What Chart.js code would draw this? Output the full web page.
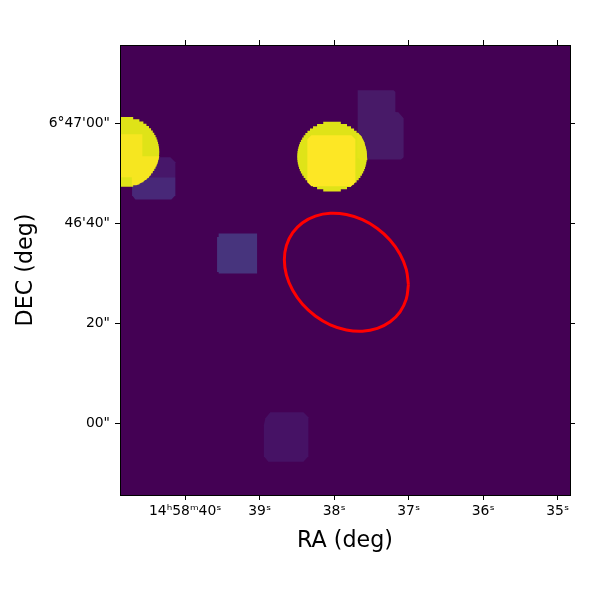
<!DOCTYPE html>
<html>
<head>
<meta charset="utf-8">
<style>
  html, body { margin: 0; padding: 0; background: #fff; }
  canvas { display: block; }
</style>
<script src="https://cdn.jsdelivr.net/npm/chart.js@4"></script>
</head>
<body>
<canvas id="skyChart" width="600" height="600"></canvas>
<script>
// Axis ticks: RA in seconds of time, DEC in arcsec above 6d46'
const raTicks = [40, 39, 38, 37, 36, 35];
const raLabels = ["14ʰ58ᵐ40ˢ", "39ˢ", "38ˢ", "37ˢ", "36ˢ", "35ˢ"];
const decTicks = [60, 40, 20, 0];
const decLabels = ["6°47'00\"", "46'40\"", "20\"", "00\""];

// Faint footprints
const topRightRa = [37.685, 37.202, 37.179, 37.179, 37.139, 37.068, 37.068, 37.102, 37.626, 37.685];
const topRightDec = [66.6, 66.6, 66.26, 62.26, 62.2, 61.0, 53.2, 52.74, 52.74, 53.6];
const leftUpperRa = [40.602, 40.199, 40.132, 40.132, 40.713, 40.713];
const leftUpperDec = [53.2, 53.2, 52.2, 49.2, 49.2, 51.6];
const leftLowerRa = [40.713, 40.132, 40.132, 40.185, 40.669, 40.713];
const leftLowerDec = [49.2, 49.2, 45.6, 44.74, 44.74, 45.6];
const squareRa = [39.551, 39.035, 39.035, 39.551, 39.551, 39.572, 39.572, 39.551];
const squareDec = [37.94, 37.94, 29.94, 29.94, 30.26, 30.26, 37.26, 37.26];
const bottomRa = [38.857, 38.414, 38.347, 38.347, 38.414, 38.884, 38.944, 38.944, 38.924];
const bottomDec = [2.2, 2.2, 1.2, -6.6, -7.7, -7.7, -6.6, -0.4, 1.0];

// Bright sources: half width of each image row (RA seconds), rows are 0.45" tall
const sourceRows = [.118, .201, .255, .296, .330, .358, .381, .401, .418, .432, .443, .452, .459, .464, .467,
  .468, .467, .464, .459, .452, .443, .432, .418, .401, .381, .358, .330, .296, .255, .201, .118];
const rowHeight = 0.45;
const rightSourceCentre = [38.029, 53.34];
const leftSourceCentre = [40.816, 54.26];

// Brighter parts inside the sources
const rightCoreRa = [38.306, 37.770, 37.716, 37.716, 37.770, 38.306, 38.360, 38.360];
const rightCoreDec = [57.6, 57.6, 56.8, 48.2, 47.4, 47.4, 48.2, 56.8];
const rightOverlapRa = [37.689, 37.635, 37.595, 37.568, 37.555, 37.649, 37.689];
const rightOverlapDec = [58.2, 57.4, 56.2, 54.6, 52.6, 52.6, 53.2];
const leftCoreRa = [40.88, 40.575, 40.575, 40.347, 40.373, 40.427, 40.487, 40.575, 40.655, 40.716, 40.716, 40.88];
const leftCoreDec = [57.8, 57.8, 53.4, 53.4, 52.0, 50.6, 49.2, 48.2, 47.6, 47.6, 49.2, 49.2];

// Region ellipse outline
const ellipseRa = [37.004, 37.033, 37.116, 37.249, 37.421, 37.621, 37.837, 38.053, 38.253, 38.425, 38.557, 38.641,
  38.669, 38.641, 38.557, 38.425, 38.253, 38.053, 37.837, 37.621, 37.421, 37.249, 37.116, 37.033, 37.004];
const ellipseDec = [27.72, 24.82, 22.28, 20.29, 18.97, 18.41, 18.66, 19.69, 21.45, 23.79, 26.58, 29.61,
  32.68, 35.58, 38.12, 40.11, 41.43, 41.99, 41.74, 40.71, 38.95, 36.61, 33.82, 30.79, 27.72];

const raMin = 40.875, raMax = 34.835;
const decMin = -14.35, decMax = 75.65;

function toPoints(ra, dec) {
  return ra.map((v, i) => ({ x: v, y: dec[i] }));
}

// staircase outline of a source, one step per image row
function rowsToPoints(centre, rows) {
  const rightSide = [], leftSide = [];
  const top = centre[1] + rows.length * rowHeight / 2;
  rows.forEach((w, i) => {
    const y0 = top - i * rowHeight, y1 = y0 - rowHeight;
    rightSide.push({ x: centre[0] - w, y: y0 }, { x: centre[0] - w, y: y1 });
    leftSide.push({ x: centre[0] + w, y: y0 }, { x: centre[0] + w, y: y1 });
  });
  return rightSide.concat(leftSide.reverse());
}

function patch(points, color) {
  return { data: points, patchColor: color, showLine: false, pointRadius: 0 };
}

// listed bottom layer first
const layers = [
  patch(toPoints(topRightRa, topRightDec), "#481a68"),
  patch(toPoints(leftUpperRa, leftUpperDec), "#47176a"),
  patch(toPoints(leftLowerRa, leftLowerDec), "#482878"),
  patch(toPoints(squareRa, squareDec), "#47347d"),
  patch(toPoints(bottomRa, bottomDec), "#461265"),
  patch(rowsToPoints(rightSourceCentre, sourceRows), "#dfe318"),
  patch(rowsToPoints(leftSourceCentre, sourceRows), "#dfe318"),
  patch(toPoints(rightOverlapRa, rightOverlapDec), "#e5e419"),
  patch(toPoints(rightCoreRa, rightCoreDec), "#fde725"),
  patch(toPoints(leftCoreRa, leftCoreDec), "#f6e620"),
  {
    data: toPoints(ellipseRa, ellipseDec),
    showLine: true,
    borderColor: "#ff0000",
    borderWidth: 3,
    tension: 0.4,
    pointRadius: 0
  }
];

// fills the closed patches, using the points the scales have placed
const patchPlugin = {
  id: "patchFill",
  beforeDatasetsDraw(chart) {
    const a = chart.chartArea;
    chart.ctx.save();
    chart.ctx.fillStyle = "#440154";
    chart.ctx.fillRect(a.left, a.top, a.right - a.left, a.bottom - a.top);
    chart.ctx.restore();
  },
  beforeDatasetDraw(chart, args) {
    const color = chart.data.datasets[args.index].patchColor;
    if (!color) return;
    const a = chart.chartArea, ctx = chart.ctx;
    ctx.save();
    ctx.beginPath();
    ctx.rect(a.left, a.top, a.right - a.left, a.bottom - a.top);
    ctx.clip();
    ctx.beginPath();
    args.meta.data.forEach((p, i) => i ? ctx.lineTo(p.x, p.y) : ctx.moveTo(p.x, p.y));
    ctx.closePath();
    ctx.fillStyle = color;
    ctx.fill();
    ctx.restore();
  }
};

const tickFont = { family: "DejaVu Sans", size: 13.9 };
const titleFont = { family: "DejaVu Sans", size: 22.2 };

function axis(position, min, max, values, labels, boxSize, titleText, titlePadding, tickPadding) {
  return {
    type: "linear",
    position: position,
    min: min,
    max: max,
    reverse: min > max,
    grid: { drawOnChartArea: false, drawTicks: true, tickLength: 5, tickColor: "#000", tickWidth: 1 },
    border: { display: true, color: "#000", width: 1, z: 1 },
    ticks: {
      display: !!labels,
      color: "#000",
      font: tickFont,
      padding: tickPadding,
      autoSkip: false,
      maxRotation: 0,
      minRotation: 0,
      callback: (v, i) => labels ? labels[i] : ""
    },
    title: {
      display: !!titleText,
      text: titleText,
      color: "#000",
      font: titleFont,
      padding: titlePadding
    },
    afterBuildTicks: scale => { scale.ticks = values.map(v => ({ value: v })); },
    afterFit: scale => {
      if (position === "left" || position === "right") scale.width = boxSize;
      else scale.height = boxSize;
    }
  };
}

new Chart(document.getElementById("skyChart"), {
  type: "scatter",
  data: { datasets: layers.slice().reverse() },
  options: {
    responsive: false,
    animation: false,
    events: [],
    layout: { padding: 0 },
    plugins: { legend: { display: false }, tooltip: { enabled: false } },
    scales: {
      x: axis("bottom", raMin, raMax, raTicks, raLabels, 105, "RA (deg)", { top: 0, bottom: 45 }, 3),
      y: axis("left", decMin, decMax, decTicks, decLabels, 120, "DEC (deg)", { top: 13, bottom: 0 }, 5),
      xTop: axis("top", raMin, raMax, raTicks, null, 45),
      yRight: axis("right", decMin, decMax, decTicks, null, 30)
    }
  },
  plugins: [patchPlugin]
});
</script>
</body>
</html>
